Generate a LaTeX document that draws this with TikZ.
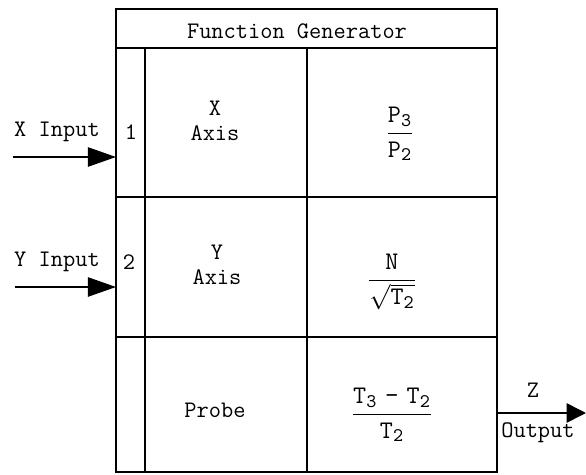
\documentclass[tikz,border=0pt]{standalone}
\usepackage{amsmath}
\usetikzlibrary{arrows.meta}

\begin{document}
\begin{tikzpicture}[
  x=0.2mm, y=-0.2mm,
  cell/.style={align=center, inner sep=0pt, font=\ttfamily\fontsize{13.5}{14}\selectfont},
  formula/.style={inner sep=0pt, font=\fontsize{15}{17}\selectfont},
  frm/.style={line width=1pt},
  sig/.style={-{Triangle[length=16pt, width=11pt]}, line width=0.9pt}
]
  \useasboundingbox (0,0) rectangle (586,475);

  % frame of the generator
  \draw[frm] (116,9) rectangle (497,472);
  \draw[frm] (116,48) -- (497,48);
  \draw[frm] (145,48) -- (145,472);
  \draw[frm] (307,48) -- (307,472);
  \draw[frm] (116,197) -- (497,197);
  \draw[frm] (116,337) -- (497,337);

  \node[cell] (title) at (297,31) {Function Generator};

  % inputs
  \node[cell] (xlab) at (57,132) {X Input};
  \node[cell] (port1) at (131,132) {1};
  \node[cell] (ylab) at (57,262) {Y Input};
  \node[cell] (port2) at (129,262) {2};

  \node[cell] (xaxis) at (215,121) {X\\Axis};
  \node[cell] (yaxis) at (217,265) {Y\\Axis};
  \node[cell] (probe) at (215,410) {Probe};

  \node[formula] (fx) at (400,134) {$\dfrac{\mathtt{P_3}}{\mathtt{P_2}}$};
  \node[formula] (fy) at (392,282) {$\dfrac{\mathtt{N}}{\sqrt{\mathtt{T_2}}}$};
  \node[formula] (fz) at (392,415) {$\dfrac{\mathtt{T_3}\ \text{\ttfamily -}\ \mathtt{T_2}}{\mathtt{T_2}}$};

  % output
  \node[cell] (zlab) at (533,390) {Z};
  \node[cell] (outlab) at (538,433) {Output};

  \coordinate (xin) at (13,157);
  \coordinate (xport) at (116,157);
  \coordinate (yin) at (15,287);
  \coordinate (yport) at (116,287);
  \coordinate (zport) at (497,413);
  \coordinate (zout) at (586,413);

  \draw[sig] (xin) -- (xport);
  \draw[sig] (yin) -- (yport);
  \draw[sig, -{Triangle[length=11pt, width=11pt]}] (zport) -- (zout);
\end{tikzpicture}
\end{document}
